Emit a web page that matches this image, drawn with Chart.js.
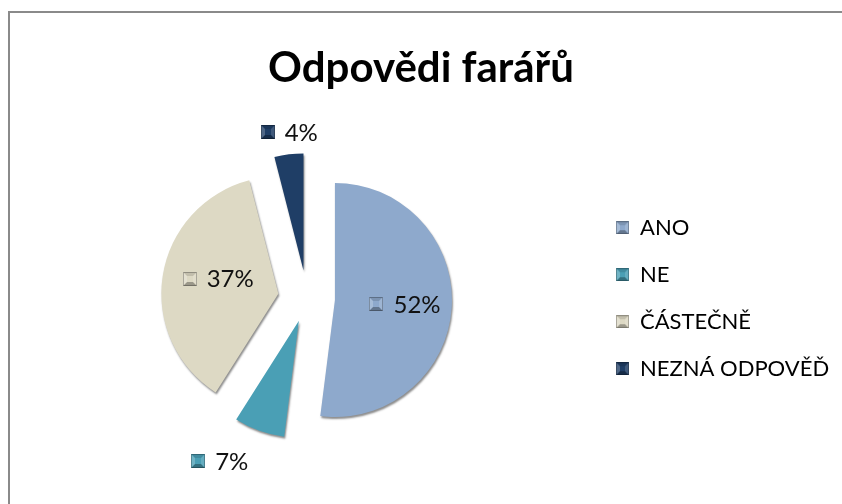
<!DOCTYPE html>
<html>
<head>
<meta charset="utf-8">
<script src="https://cdn.jsdelivr.net/npm/chart.js@4.4.1/dist/chart.umd.min.js"></script>
<style>
    html, body { margin: 0; padding: 0; background: #fff; }
    #wrap { position: relative; width: 842px; height: 504px; overflow: hidden; }
    #frame { position: absolute; left: 8px; top: 11px; width: 900px; height: 600px;
             border-top: 2px solid #8a8a8a; border-left: 2px solid #8a8a8a; }
    #chart { position: absolute; left: 0; top: 0; }
</style>
</head>
<body>
<div id="wrap">
    <div id="frame"></div>
    <canvas id="chart" width="842" height="504"></canvas>
</div>
<script>
// data
const titleText = 'Odpovědi farářů';
const labels = ['ANO', 'NE', 'ČÁSTEČNĚ', 'NEZNÁ ODPOVĚĎ'];
const values = [52, 7, 37, 4];

// look
const colors = ['#8EA9CC', '#4A9FB5', '#DDD9C4', '#1F3E66'];
const explode = [28, 24, 29, 28];          // px each slice is pulled out
const labelPlace = ['in', 'out', 'in', 'out'];
const labelGap = [0.6, 30, 0.53, 12];      // inside: part of radius, outside: px past the rim
const labelTurn = [0, 7, 5, 2];            // degrees, small nudge of the label direction

const legendFont = 22, legendPad = 25, legendBox = 13;

// small bevelled square like the Excel markers
function bevel(color, size) {
    const c = document.createElement('canvas');
    c.width = size; c.height = size;
    const g = c.getContext('2d');
    const b = Math.round(size * 0.3);
    const poly = (pts, fill) => {
        g.beginPath();
        g.moveTo(pts[0][0], pts[0][1]);
        pts.slice(1).forEach(p => g.lineTo(p[0], p[1]));
        g.closePath();
        g.fillStyle = fill;
        g.fill();
    };
    g.fillStyle = color;
    g.fillRect(0, 0, size, size);
    poly([[0, 0], [size, 0], [size - b, b], [b, b]], 'rgba(0,0,0,0.12)');
    poly([[0, size], [size, size], [size - b, size - b], [b, size - b]], 'rgba(0,0,0,0.3)');
    poly([[0, 0], [b, b], [b, size - b], [0, size]], 'rgba(255,255,255,0.22)');
    poly([[size, 0], [size - b, b], [size - b, size - b], [size, size]], 'rgba(255,255,255,0.15)');
    g.strokeStyle = 'rgba(0,0,0,0.25)';
    g.lineWidth = 1;
    g.strokeRect(0.5, 0.5, size - 1, size - 1);
    return c;
}
const legendMarks = colors.map(c => bevel(c, 13));
const labelMarks = colors.map(c => bevel(c, 14));

// room on the right so the legend markers start near x = 616
const meas = document.createElement('canvas').getContext('2d');
meas.font = legendFont + 'px Lato';
const longest = Math.max(...labels.map(l => meas.measureText(l).width));
const padRight = Math.max(0, 251 - (legendPad + legendBox + legendFont / 2 + longest + 10));

// pull every slice out along its middle angle
const explodePlugin = {
    id: 'explode',
    afterDatasetUpdate(chart, args) {
        args.meta.data.forEach((arc, i) => {
            const mid = (arc.startAngle + arc.endAngle) / 2;
            arc.x += Math.cos(mid) * explode[i];
            arc.y += Math.sin(mid) * explode[i];
        });
    }
};

// keep the title centred on the whole canvas
const centerTitle = {
    id: 'centerTitle',
    afterLayout(chart) {
        const t = chart.titleBlock;
        const w = t.right - t.left;
        t.left = (chart.width - w) / 2;
        t.right = t.left + w;
    }
};

// soft rim under the slices
const shadowPlugin = {
    id: 'rim',
    beforeDatasetsDraw(chart) {
        const ctx = chart.ctx;
        ctx.save();
        ctx.shadowColor = 'rgba(0,0,0,0.45)';
        ctx.shadowBlur = 2;
        ctx.shadowOffsetX = 1;
        ctx.shadowOffsetY = 2;
    },
    afterDatasetsDraw(chart) {
        chart.ctx.restore();
    }
};

// percent labels with marker
const sliceLabels = {
    id: 'sliceLabels',
    afterDatasetsDraw(chart) {
        const ctx = chart.ctx;
        const meta = chart.getDatasetMeta(0);
        ctx.save();
        ctx.font = '24px Lato';
        ctx.textBaseline = 'middle';
        ctx.textAlign = 'left';
        ctx.fillStyle = '#111';
        meta.data.forEach((arc, i) => {
            const text = values[i] + '%';
            const ms = 14, gap = 10;
            const w = ms + gap + ctx.measureText(text).width, h = 20;
            const mid = (arc.startAngle + arc.endAngle) / 2 + labelTurn[i] * Math.PI / 180;
            const cos = Math.cos(mid), sin = Math.sin(mid);
            let cx, cy;
            if (labelPlace[i] === 'in') {
                cx = arc.x + cos * arc.outerRadius * labelGap[i];
                cy = arc.y + sin * arc.outerRadius * labelGap[i];
            } else {
                const d = arc.outerRadius + labelGap[i];
                cx = arc.x + cos * d + cos * w / 2;
                cy = arc.y + sin * d + sin * h / 2;
            }
            const x0 = cx - w / 2;
            ctx.drawImage(labelMarks[i], Math.round(x0), Math.round(cy - ms / 2));
            ctx.fillText(text, x0 + ms + gap, cy + 1);
        });
        ctx.restore();
    }
};

new Chart(document.getElementById('chart'), {
    type: 'pie',
    data: {
        labels: labels,
        datasets: [{
            data: values,
            backgroundColor: colors,
            borderWidth: 0,
            radius: 117
        }]
    },
    plugins: [explodePlugin, centerTitle, shadowPlugin, sliceLabels],
    options: {
        responsive: false,
        animation: false,
        events: [],
        layout: { padding: { left: 23, right: padRight, top: 0, bottom: 8 } },
        plugins: {
            title: {
                display: true,
                text: titleText,
                color: '#000',
                font: { family: 'Lato', size: 42, weight: 'bold', lineHeight: 1.2 },
                padding: { top: 43, bottom: 7 }
            },
            legend: {
                position: 'right',
                fullSize: false,
                labels: {
                    color: '#000',
                    font: { family: 'Lato', size: legendFont },
                    boxWidth: legendBox,
                    padding: legendPad,
                    usePointStyle: true,
                    generateLabels: (chart) => labels.map((l, i) => ({
                        text: l,
                        fillStyle: colors[i],
                        strokeStyle: colors[i],
                        lineWidth: 0,
                        pointStyle: legendMarks[i],
                        hidden: false,
                        index: i
                    }))
                }
            },
            tooltip: { enabled: false }
        }
    }
});
</script>
</body>
</html>
